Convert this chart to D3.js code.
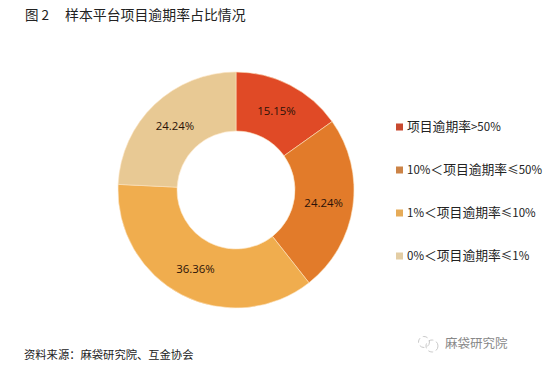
<!DOCTYPE html>
<html>
<head>
<meta charset="utf-8">
<script src="https://d3js.org/d3.v7.min.js"></script>
<style>
    html, body { margin: 0; padding: 0; background: #fff; }
    svg { display: block; }
    text { font-family: "Noto Sans CJK SC", "Open Sans", sans-serif; fill: #222; }
    .label { font-family: "Open Sans", "Noto Sans CJK SC", sans-serif; font-size: 11.4px; fill: #2a1208; }
</style>
</head>
<body>
<svg id="chart"></svg>
<script>
const categories = ['项目逾期率>50%', '10%＜项目逾期率≤50%', '1%＜项目逾期率≤10%', '0%＜项目逾期率≤1%'];
const values = [15.15, 24.24, 36.36, 24.24];
const colors = ['#e04a26', '#e27b2a', '#f0ad4e', '#e8c994'];
const legendColors = ['#c8492f', '#cc8347', '#e6ab58', '#e3cda4'];
const titleNumber = '图 2';
const titleText = '样本平台项目逾期率占比情况';
const sourceText = '资料来源：麻袋研究院、互金协会';
const watermarkText = '麻袋研究院';

const width = 556, height = 368;
const svg = d3.select('#chart').attr('width', width).attr('height', height);

svg.append('text').attr('x', 25).attr('y', 20).attr('font-size', 13.5).text(titleNumber);
svg.append('text').attr('x', 65).attr('y', 20).attr('font-size', 13.9).text(titleText);

// donut
const pie = d3.pie().sort(null).value(d => d);
const arc = d3.arc().innerRadius(59).outerRadius(118);
const donut = svg.append('g').attr('transform', 'translate(236,190)');

const slices = pie(values);
donut.selectAll('path')
    .data(slices)
    .join('path')
    .attr('d', arc)
    .attr('fill', (d, i) => colors[i])
    .attr('stroke', '#fbe3c0')
    .attr('stroke-width', 0.6);

donut.selectAll('text')
    .data(slices)
    .join('text')
    .attr('class', 'label')
    .attr('transform', d => `translate(${arc.centroid(d)})`)
    .attr('text-anchor', 'middle')
    .attr('dy', '0.35em')
    .text(d => d.data.toFixed(2) + '%');

// legend
const legendY = d3.scalePoint().domain(categories).range([127, 256]);
const legend = svg.append('g');
const item = legend.selectAll('g')
    .data(categories)
    .join('g')
    .attr('transform', d => `translate(396,${legendY(d)})`);

item.append('rect')
    .attr('y', -3.5)
    .attr('width', 7)
    .attr('height', 7)
    .attr('fill', (d, i) => legendColors[i]);

// the chinese runs are set bigger than the numbers in the original
item.append('text')
    .attr('x', 11)
    .attr('y', 4)
    .selectAll('tspan')
    .data(d => d.match(/[\u4e00-\u9fff＜]+|[^\u4e00-\u9fff＜]+/g))
    .join('tspan')
    .attr('font-size', d => /[\u4e00-\u9fff＜]/.test(d) ? 12.8 : 11.5)
    .text(d => d);

// footer
svg.append('text').attr('x', 24).attr('y', 359).attr('font-size', 11.3).text(sourceText);

// watermark
const mark = svg.append('g')
    .attr('transform', 'translate(0,343)')
    .attr('fill', 'none')
    .attr('stroke', '#bbb')
    .attr('stroke-width', 0.8);
mark.append('circle').attr('cx', 424).attr('cy', -1).attr('r', 5.5).attr('stroke-dasharray', '5 3');
mark.append('circle').attr('cx', 432).attr('cy', 3).attr('r', 6).attr('stroke-dasharray', '5 3');

svg.append('text')
    .attr('x', 445).attr('y', 348)
    .attr('font-size', 12.5)
    .style('fill', '#888')
    .text(watermarkText);
</script>
</body>
</html>
